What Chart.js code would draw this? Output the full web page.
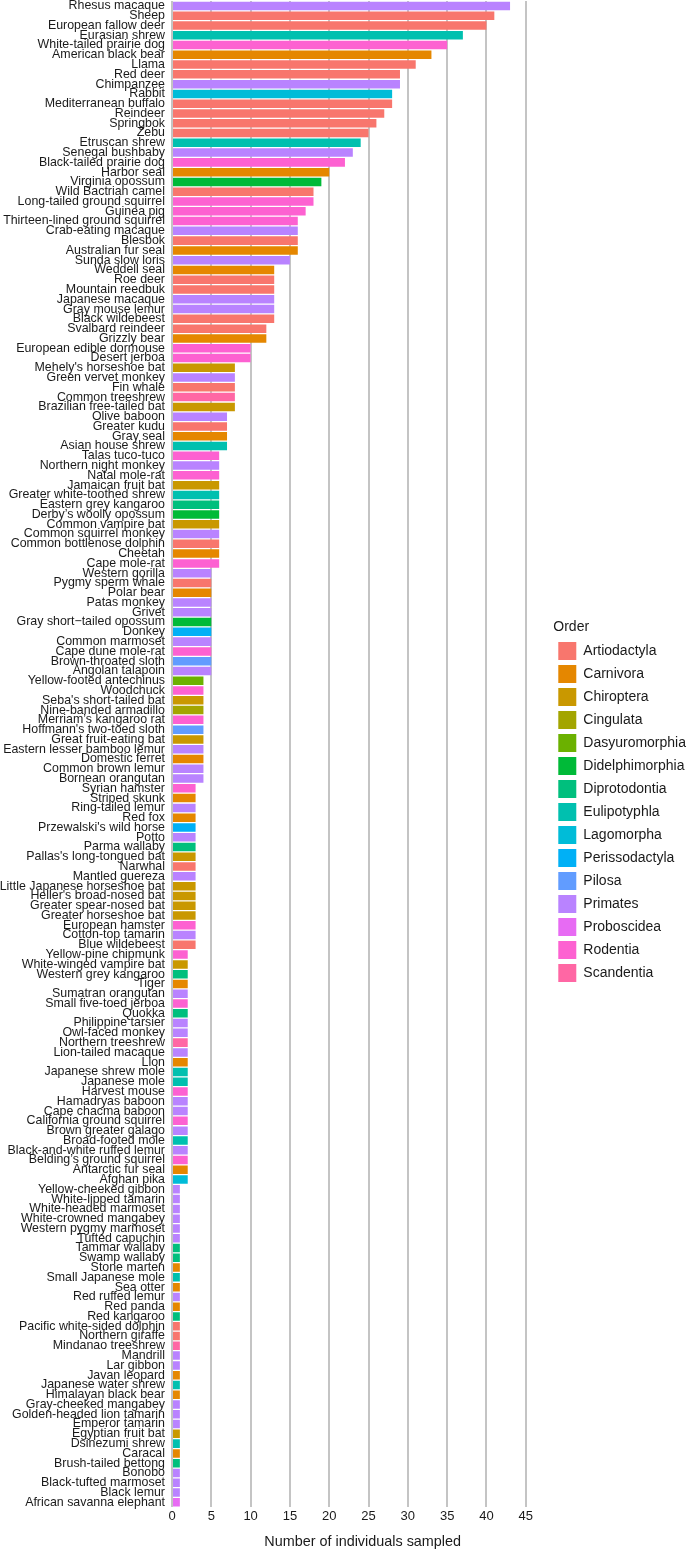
<!DOCTYPE html>
<html>
<head>
<meta charset="utf-8">
<script src="https://cdn.jsdelivr.net/npm/chart.js@4"></script>
<style>
  html, body { margin: 0; padding: 0; background: #fff; }
  #wrap { width: 695px; height: 1549px; position: relative; }
</style>
</head>
<body>
<div id="wrap"><canvas id="chart" width="695" height="1549"></canvas></div>
<script>
'use strict';

const orders = ['Artiodactyla','Carnivora','Chiroptera','Cingulata','Dasyuromorphia','Didelphimorphia',
  'Diprotodontia','Eulipotyphla','Lagomorpha','Perissodactyla','Pilosa','Primates','Proboscidea','Rodentia','Scandentia'];
const orderColors = ['#F8766D','#E58700','#C99800','#A3A500','#6BB100','#00BA38','#00BF7D','#00C0AF',
  '#00BCD8','#00B0F6','#619CFF','#B983FF','#E76BF3','#FD61D1','#FF67A4'];

// species, top to bottom
const species = [
  'Rhesus macaque','Sheep','European fallow deer','Eurasian shrew','White-tailed prairie dog','American black bear',
  'Llama','Red deer','Chimpanzee','Rabbit','Mediterranean buffalo','Reindeer','Springbok','Zebu','Etruscan shrew',
  'Senegal bushbaby','Black-tailed prairie dog','Harbor seal','Virginia opossum','Wild Bactrian camel',
  'Long-tailed ground squirrel','Guinea pig','Thirteen-lined ground squirrel','Crab-eating macaque','Blesbok',
  'Australian fur seal','Sunda slow loris','Weddell seal','Roe deer','Mountain reedbuk','Japanese macaque',
  'Gray mouse lemur','Black wildebeest','Svalbard reindeer','Grizzly bear','European edible dormouse','Desert jerboa',
  "Mehely's horseshoe bat",'Green vervet monkey','Fin whale','Common treeshrew','Brazilian free-tailed bat',
  'Olive baboon','Greater kudu','Gray seal','Asian house shrew','Talas tuco-tuco','Northern night monkey',
  'Natal mole-rat','Jamaican fruit bat','Greater white-toothed shrew','Eastern grey kangaroo',
  'Derby\u2019s woolly opossum','Common vampire bat','Common squirrel monkey','Common bottlenose dolphin','Cheetah',
  'Cape mole-rat','Western gorilla','Pygmy sperm whale','Polar bear','Patas monkey','Grivet',
  'Gray short\u2212tailed opossum','Donkey','Common marmoset','Cape dune mole-rat','Brown-throated sloth',
  'Angolan talapoin','Yellow-footed antechinus','Woodchuck',"Seba's short-tailed bat",'Nine-banded armadillo',
  'Merriam\u2019s kangaroo rat',"Hoffmann's two-toed sloth",'Great fruit-eating bat','Eastern lesser bamboo lemur',
  'Domestic ferret','Common brown lemur','Bornean orangutan','Syrian hamster','Striped skunk','Ring-tailed lemur',
  'Red fox',"Przewalski's wild horse",'Potto','Parma wallaby',"Pallas's long-tongued bat",'Narwhal','Mantled guereza',
  'Little Japanese horseshoe bat',"Heller's broad-nosed bat",'Greater spear-nosed bat','Greater horseshoe bat',
  'European hamster','Cotton-top tamarin','Blue wildebeest','Yellow-pine chipmunk','White-winged vampire bat',
  'Western grey kangaroo','Tiger','Sumatran orangutan','Small five-toed jerboa','Quokka','Philippine tarsier',
  'Owl-faced monkey','Northern treeshrew','Lion-tailed macaque','Lion','Japanese shrew mole','Japanese mole',
  'Harvest mouse','Hamadryas baboon','Cape chacma baboon','California ground squirrel','Brown greater galago',
  'Broad-footed mole','Black-and-white ruffed lemur','Belding\u2019s ground squirrel','Antarctic fur seal','Afghan pika',
  'Yellow-cheeked gibbon','White-lipped tamarin','White-headed marmoset','White-crowned mangabey',
  'Western pygmy marmoset','Tufted capuchin','Tammar wallaby','Swamp wallaby','Stone marten','Small Japanese mole',
  'Sea otter','Red ruffed lemur','Red panda','Red kangaroo','Pacific white-sided dolphin','Northern giraffe',
  'Mindanao treeshrew','Mandrill','Lar gibbon','Javan leopard','Japanese water shrew','Himalayan black bear',
  'Gray-cheeked mangabey','Golden-headed lion tamarin','Emperor tamarin','Egyptian fruit bat','Dsinezumi shrew',
  'Caracal','Brush-tailed bettong','Bonobo','Black-tufted marmoset','Black lemur','African savanna elephant'
];

const sampled = [
  43,41,40,37,35,33,31,29,29,28,28,27,26,25,24,23,22,20,19,18,18,17,16,16,16,16,15,
  13,13,13,13,13,13,12,12,10,10,8,8,8,8,8,7,7,7,7,
  6,6,6,6,6,6,6,6,6,6,6,6,
  5,5,5,5,5,5,5,5,5,5,5,
  4,4,4,4,4,4,4,4,4,4,4,
  3,3,3,3,3,3,3,3,3,3,3,3,3,3,3,3,3,
  2,2,2,2,2,2,2,2,2,2,2,2,2,2,2,2,2,2,2,2,2,2,2,2,
  1,1,1,1,1,1,1,1,1,1,1,1,1,1,1,1,1,1,1,1,1,1,1,1,1,1,1,1,1,1,1,1,1
];

// order of each species, same sequence as species
const speciesOrder = [
  'Primates','Artiodactyla','Artiodactyla','Eulipotyphla','Rodentia','Carnivora','Artiodactyla','Artiodactyla',
  'Primates','Lagomorpha','Artiodactyla','Artiodactyla','Artiodactyla','Artiodactyla','Eulipotyphla','Primates',
  'Rodentia','Carnivora','Didelphimorphia','Artiodactyla','Rodentia','Rodentia','Rodentia','Primates','Artiodactyla',
  'Carnivora','Primates',
  'Carnivora','Artiodactyla','Artiodactyla','Primates','Primates','Artiodactyla','Artiodactyla','Carnivora',
  'Rodentia','Rodentia','Chiroptera','Primates','Artiodactyla','Scandentia','Chiroptera',
  'Primates','Artiodactyla','Carnivora','Eulipotyphla',
  'Rodentia','Primates','Rodentia','Chiroptera','Eulipotyphla','Diprotodontia','Didelphimorphia','Chiroptera',
  'Primates','Artiodactyla','Carnivora','Rodentia',
  'Primates','Artiodactyla','Carnivora','Primates','Primates','Didelphimorphia','Perissodactyla','Primates',
  'Rodentia','Pilosa','Primates',
  'Dasyuromorphia','Rodentia','Chiroptera','Cingulata','Rodentia','Pilosa','Chiroptera','Primates','Carnivora',
  'Primates','Primates',
  'Rodentia','Carnivora','Primates','Carnivora','Perissodactyla','Primates','Diprotodontia','Chiroptera',
  'Artiodactyla','Primates','Chiroptera','Chiroptera','Chiroptera','Chiroptera','Rodentia','Primates','Artiodactyla',
  'Rodentia','Chiroptera','Diprotodontia','Carnivora','Primates','Rodentia','Diprotodontia','Primates','Primates',
  'Scandentia','Primates','Carnivora','Eulipotyphla','Eulipotyphla','Rodentia','Primates','Primates','Rodentia',
  'Primates','Eulipotyphla','Primates','Rodentia','Carnivora','Lagomorpha',
  'Primates','Primates','Primates','Primates','Primates','Primates','Diprotodontia','Diprotodontia','Carnivora',
  'Eulipotyphla','Carnivora','Primates','Carnivora','Diprotodontia','Artiodactyla','Artiodactyla','Scandentia',
  'Primates','Primates','Carnivora','Eulipotyphla','Carnivora','Primates','Primates','Primates','Chiroptera',
  'Eulipotyphla','Carnivora','Diprotodontia','Primates','Primates','Primates','Proboscidea'
];

const xTicks = [0, 5, 10, 15, 20, 25, 30, 35, 40, 45];

const FONT = '"Liberation Sans", Arial, Helvetica, sans-serif';

// one dataset per order so the legend lists the orders
const datasets = orders.map((ord, i) => ({
  label: ord,
  data: species.map((s, j) => speciesOrder[j] === ord ? sampled[j] : null),
  backgroundColor: orderColors[i],
  borderWidth: 0,
  barPercentage: 0.87,
  categoryPercentage: 1.0,
}));

new Chart(document.getElementById('chart').getContext('2d'), {
  type: 'bar',
  data: { labels: species, datasets },
  options: {
    indexAxis: 'y',
    responsive: false,
    animation: false,
    layout: { padding: { top: 1, right: -1, bottom: 0, left: 0 } },
    plugins: {
      tooltip: { enabled: false },
      legend: {
        position: 'right',
        align: 'center',
        title: { display: true, text: 'Order', position: 'start', color: '#1a1a1a',
                 font: { family: FONT, size: 14 }, padding: { top: 57, bottom: 0 } },
        labels: { boxWidth: 18, boxHeight: 18, padding: 5, color: '#1a1a1a',
                  font: { family: FONT, size: 14 } }
      }
    },
    scales: {
      x: {
        stacked: true,
        min: 0,
        max: 48.5,
        afterBuildTicks: axis => { axis.ticks = xTicks.map(v => ({ value: v })); },
        grid: { color: '#c4c4c4', lineWidth: 2, drawTicks: false },
        border: { display: false },
        ticks: { color: '#1a1a1a', padding: 1, font: { family: FONT, size: 13 } },
        title: { display: true, text: 'Number of individuals sampled', color: '#1a1a1a',
                 font: { family: FONT, size: 14.4, lineHeight: 1 }, padding: { top: 9.8, bottom: 0 } }
      },
      y: {
        stacked: true,
        afterFit: axis => { axis.width = 172; axis.paddingTop = 0; axis.paddingBottom = 0; },
        grid: { display: false, drawTicks: false },
        border: { display: false },
        ticks: { autoSkip: false, color: '#1a1a1a', padding: 7, font: { family: FONT, size: 12.4 } }
      }
    }
  }
});
</script>
</body>
</html>
